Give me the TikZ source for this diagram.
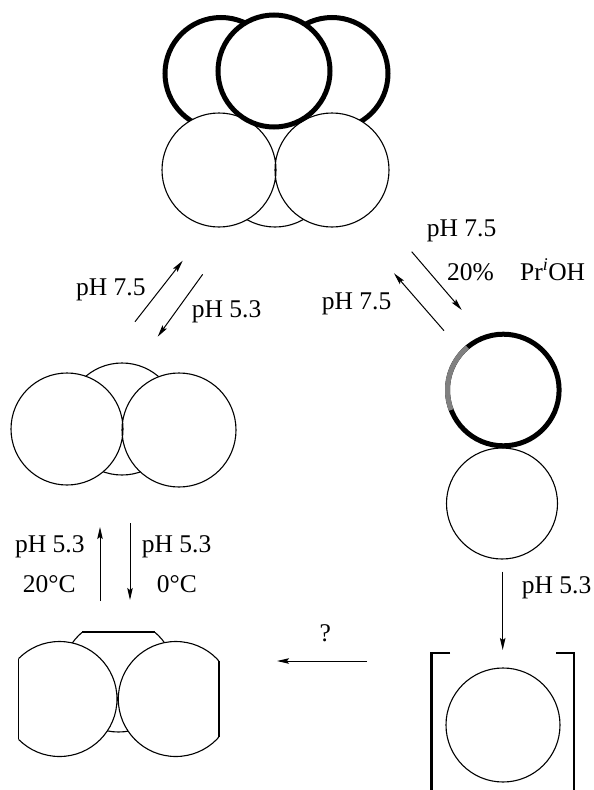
\documentclass[tikz,border=0pt]{standalone}
\usepackage{fontspec}
\setmainfont{Liberation Serif}
\usetikzlibrary{arrows.meta}
\begin{document}
\begin{tikzpicture}[x=1pt,y=-1pt,
  thinring/.style={draw=black,line width=1.1pt,fill=white},
  thickring/.style={draw=black,line width=5pt,fill=white},
  rxn/.style={line width=1pt,-{Stealth[length=12pt,width=5.5pt,inset=2pt]}},
  lbl/.style={font=\fontsize{25.5}{30}\selectfont,inner sep=0pt,anchor=base west},
  bracketline/.style={line width=2.6pt}]
\useasboundingbox (0,0) rectangle (594,790);

% ---- hexamer-like assembly (top) ----
\draw[thickring] (221,73.5) circle[radius=56pt];
\draw[thickring] (332,73.5) circle[radius=56pt];
\draw[thinring] (275,170) circle[radius=57pt];
\fill[white] (219,170) circle[radius=57pt] (332,170) circle[radius=57pt];
\draw[line width=1.1pt] (219,170) circle[radius=57pt] (332,170) circle[radius=57pt];
\draw[thickring] (274,71) circle[radius=56pt];

% ---- trimer (middle left) ----
\draw[thinring] (122,419) circle[radius=56pt];
\fill[white] (67,429) circle[radius=56pt] (179,430) circle[radius=57pt];
\draw[line width=1.1pt] (67,429) circle[radius=56pt] (179,430) circle[radius=57pt];

% ---- flattened trimer (bottom left) ----
\begin{scope}
  \clip (0,632) rectangle (594,790);
  \draw[thinring] (118.5,675.5) circle[radius=56.5pt];
\end{scope}
\draw[line width=1.1pt] (82.4,632) -- (154.6,632);
\begin{scope}
  \clip (18.3,0) rectangle (219,790);
  \fill[white] (59.5,699) circle[radius=57.5pt] (175.8,699) circle[radius=57.5pt];
  \draw[line width=1.1pt] (59.5,699) circle[radius=57.5pt] (175.8,699) circle[radius=57.5pt];
\end{scope}
\draw[line width=1.1pt] (18.3,658.9) -- (18.3,739.1);
\draw[line width=1.1pt] (219,661) -- (219,737);

% ---- dimer (right) ----
\draw[thinring] (502,503.5) circle[radius=55.5pt];
\draw[thickring] (503.3,390) circle[radius=55.8pt];
\draw[line width=5pt,black!50] (503.3,390) ++(130:55.8pt) arc[start angle=130,end angle=201,radius=55.8pt];

% ---- monomer in brackets (bottom right) ----
\draw[thinring] (503,725) circle[radius=57pt];
\draw[bracketline] (450,653) -- (431.7,653) -- (431.7,795);
\draw[bracketline] (556,653) -- (574,653) -- (574,795);

% ---- reaction arrows ----
\coordinate (ua) at (135,321.7);   \coordinate (ub) at (182.7,260.7);
\coordinate (da) at (202.7,274.3); \coordinate (db) at (157.7,336.7);
\coordinate (ra) at (411.7,251.7); \coordinate (rb) at (461.7,310);
\coordinate (sa) at (444,330.7);   \coordinate (sb) at (394,273.3);
\coordinate (va) at (100,601);     \coordinate (vb) at (100,527);
\coordinate (wa) at (130,523);     \coordinate (wb) at (130,600);
\coordinate (ma) at (502.7,571.7); \coordinate (mb) at (502.7,650);
\coordinate (ha) at (367,661);     \coordinate (hb) at (277,661);
\draw[rxn] (ua) -- (ub);
\draw[rxn] (da) -- (db);
\draw[rxn] (ra) -- (rb);
\draw[rxn] (sa) -- (sb);
\draw[rxn] (va) -- (vb);
\draw[rxn] (wa) -- (wb);
\draw[rxn] (ma) -- (mb);
\draw[rxn] (ha) -- (hb);

% ---- conditions ----
\node[lbl] (l1) at (76,295) {pH 7.5};
\node[lbl] (l2) at (191.7,317) {pH 5.3};
\node[lbl] (l3) at (426.7,236.7) {pH 7.5};
\node[lbl] (l4) at (447,280) {20\%};
\node[lbl] (l5) at (520,280) {Pr\textsuperscript{\itshape i}OH};
\node[lbl] (l6) at (321.7,309) {pH 7.5};
\node[lbl] (l7) at (15,552) {pH 5.3};
\node[lbl] (l8) at (22.7,592) {20°C};
\node[lbl] (l9) at (141.7,552) {pH 5.3};
\node[lbl] (l10) at (156.7,592) {0°C};
\node[lbl] (l11) at (521.7,593) {pH 5.3};
\node[lbl,anchor=base] (l12) at (325.3,641) {?};
\end{tikzpicture}
\end{document}
